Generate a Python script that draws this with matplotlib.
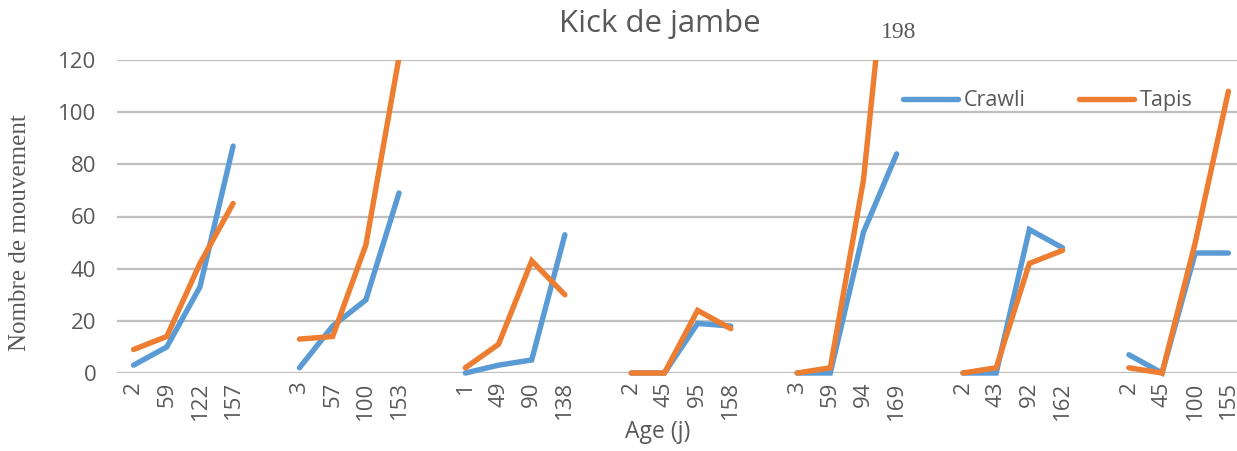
import matplotlib
matplotlib.use("Agg")
import matplotlib.pyplot as plt
from matplotlib.patches import Rectangle

ages = [
    ["2", "59", "122", "157"],
    ["3", "57", "100", "153"],
    ["1", "49", "90", "138"],
    ["2", "45", "95", "158"],
    ["3", "59", "94", "169"],
    ["2", "43", "92", "162"],
    ["2", "45", "100", "155"],
]
crawli = [
    [3, 10, 33, 87],
    [2, 18, 28, 69],
    [0, 3, 5, 53],
    [0, 0, 19, 18],
    [0, 0, 54, 84],
    [0, 0, 55, 48],
    [7, 0, 46, 46],
]
tapis = [
    [9, 14, 42, 65],
    [13, 14, 49, 121],
    [2, 11, 43, 30],
    [0, 0, 24, 17],
    [0, 2, 74, 198],
    [0, 2, 42, 47],
    [2, 0, 50, 108],
]
series_names = ["Crawli", "Tapis"]
colors = ["#5B9BD5", "#ED7D31"]
gray = "#595959"

W, H = 1237, 451
fig = plt.figure(figsize=(W / 100, H / 100), dpi=100)
left, right, top, bottom = 117, 1245, 60, 373
ax = fig.add_axes([left / W, (H - bottom) / H, (right - left) / W, (bottom - top) / H])

clip = Rectangle((0, -0.1), 1, 1.1, transform=ax.transAxes, facecolor="none", edgecolor="none")
ax.add_patch(clip)

ticks, labels = [], []
for g in range(len(ages)):
    xs = [g * 5 + i for i in range(4)]
    ticks += xs
    labels += ages[g]
    for k, data in enumerate([crawli, tapis]):
        ln, = ax.plot(xs, data[g], color=colors[k], lw=3.9, solid_capstyle="round",
                      solid_joinstyle="miter", zorder=3 + k,
                      label=series_names[k] if g == 0 else None)
        ln.set_clip_path(clip)

ax.set_xlim(-0.5, 33.5)
ax.set_ylim(0, 120)
ax.set_yticks(range(0, 121, 20))
ax.set_xticks(ticks)
ax.set_xticklabels(labels, rotation=90, fontsize=16, color=gray, family="Open Sans")
for t in ax.get_yticklabels():
    t.set_fontsize(16)
    t.set_color(gray)
    t.set_family("Open Sans")
ax.tick_params(axis="both", length=0)
ax.tick_params(axis="y", pad=15)
ax.tick_params(axis="x", pad=6)
ax.grid(axis="y", color="#BFBFBF", lw=1.6, zorder=0)
ax.set_axisbelow(True)
for s in ax.spines.values():
    s.set_visible(False)

fig.text(20 / W, 1 - 233 / H, "Nombre de mouvement", rotation=90, ha="center", va="center",
         family="Liberation Serif", fontsize=18, color=gray)
fig.text(658 / W, 1 - 432 / H, "Age (j)", ha="center", va="center", fontsize=16.5, color=gray, family="Open Sans")
fig.text(660 / W, 1 - 24 / H, "Kick de jambe", ha="center", va="center", fontsize=22.5, color=gray, family="Open Sans")
fig.text(899 / W, 1 - 33 / H, "198", ha="center", va="center", fontsize=17, color=gray, family="Liberation Serif")

ax.legend(ncol=2, loc="center left", bbox_to_anchor=(903 / W, 1 - 101 / H), bbox_transform=fig.transFigure,
          frameon=False, borderpad=0, borderaxespad=0, handlelength=2.55, handletextpad=0.25,
          columnspacing=2.5, prop={"family": "Open Sans", "size": 15.5}, labelcolor=gray)

fig.savefig("out.png", dpi=100, facecolor="white")
